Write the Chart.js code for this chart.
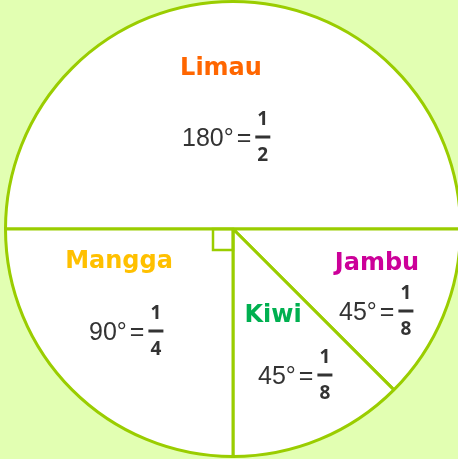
<!DOCTYPE html>
<html>
<head>
<meta charset="utf-8">
<script src="https://cdn.jsdelivr.net/npm/chart.js"></script>
<style>
html, body { margin:0; padding:0; background:#e2ffb2; overflow:hidden; width:458px; height:459px; }
#wrap { position:absolute; left:4px; top:0; }
</style>
</head>
<body>
<div id="wrap"><canvas id="pieChart" width="458" height="458"></canvas></div>
<script>
// data
var labels = ['Limau', 'Jambu', 'Kiwi', 'Mangga'];
var degrees = [180, 45, 45, 90];
var denominators = [2, 8, 8, 4];
var labelColors = ['#ff6600', '#cc0099', '#00b050', '#ffc000'];

var lineColor = '#9acd00';

// where the text goes, relative to the pie centre
var namePos = [[-12, -154], [144, 41], [40, 93], [-114, 39]];
var fracPos = [[-51, -92], [106, 82], [25, 146], [-144, 102]];

function drawFraction(ctx, x, y, deg, den) {
    ctx.fillStyle = '#333333';
    ctx.font = '25px "Liberation Sans"';
    ctx.textAlign = 'left';
    ctx.textBaseline = 'alphabetic';
    var t = deg + '°';
    ctx.fillText(t, x, y + 9);
    var ex = x + ctx.measureText(t).width + 3;
    ctx.fillText('=', ex, y + 9);
    var bx = ex + ctx.measureText('=').width + 4;
    ctx.fillRect(bx, y - 1.5, 15, 3);
    ctx.font = 'bold 19px "Noto Sans"';
    ctx.textAlign = 'center';
    ctx.textBaseline = 'middle';
    ctx.fillText('1', bx + 7.5, y - 17);
    ctx.fillText(String(den), bx + 7.5, y + 19);
}

var pieLabels = {
    id: 'pieLabels',
    afterDraw: function(chart) {
        var ctx = chart.ctx;
        var arc = chart.getDatasetMeta(0).data[0];
        var cx = arc.x, cy = arc.y;
        ctx.save();
        // right angle mark
        ctx.strokeStyle = lineColor;
        ctx.lineWidth = 2.5;
        ctx.strokeRect(cx - 20, cy, 20, 21);

        for (var i = 0; i < labels.length; i++) {
            ctx.font = 'bold 24px "DejaVu Sans"';
            ctx.fillStyle = labelColors[i];
            ctx.textAlign = 'center';
            ctx.textBaseline = 'alphabetic';
            ctx.fillText(labels[i], cx + namePos[i][0], cy + namePos[i][1]);
            drawFraction(ctx, cx + fracPos[i][0], cy + fracPos[i][1], degrees[i], denominators[i]);
        }
        ctx.restore();
    }
};

new Chart(document.getElementById('pieChart'), {
    type: 'pie',
    data: {
        labels: labels,
        datasets: [{
            data: degrees,
            backgroundColor: '#ffffff',
            borderColor: lineColor,
            borderWidth: 3
        }]
    },
    options: {
        responsive: false,
        animation: false,
        rotation: -90,
        layout: { padding: 0 },
        plugins: {
            legend: { display: false },
            tooltip: { enabled: false }
        }
    },
    plugins: [pieLabels]
});
</script>
</body>
</html>
